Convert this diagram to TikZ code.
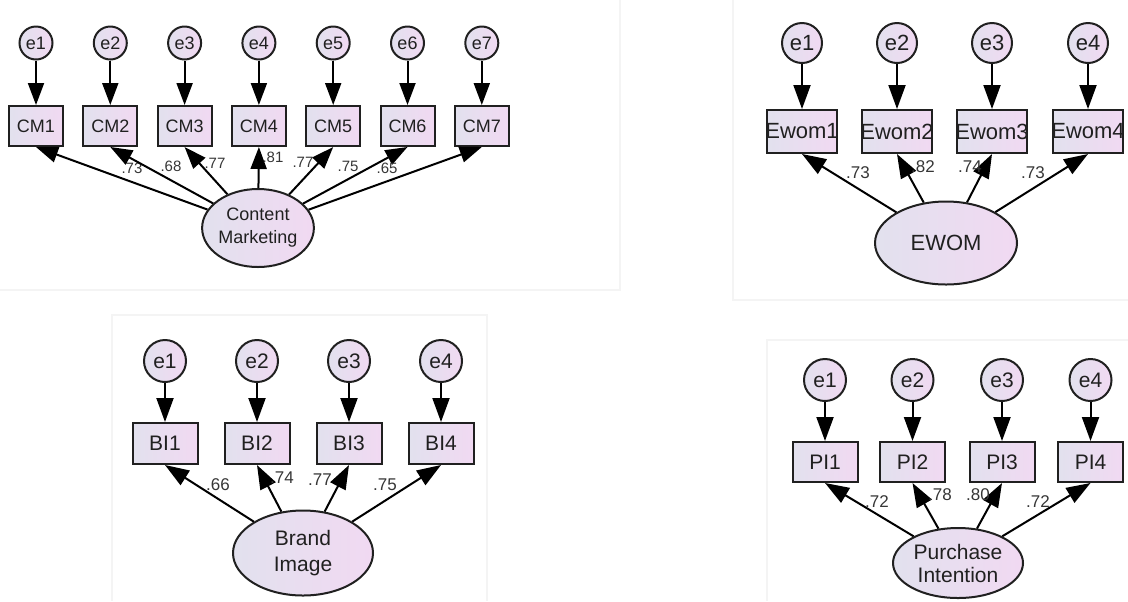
\documentclass[tikz,border=0pt]{standalone}
\usepackage{fontspec}
\setmainfont{Liberation Sans}
\usetikzlibrary{shapes,positioning,arrows.meta}

\definecolor{lavL}{HTML}{E2E1EE}
\definecolor{lavR}{HTML}{F1D9F2}
\definecolor{ink}{HTML}{202020}
\definecolor{wtgray}{HTML}{363636}
\definecolor{paneline}{HTML}{F4F4F4}

\tikzset{
  amos/.style={left color=lavL, right color=lavR, draw=ink, line width=1pt, text=ink, inner sep=0pt},
  err/.style={amos, circle},
  obs/.style={amos, rectangle},
  lat/.style={amos, ellipse, align=center},
  wt/.style={text=wtgray, inner sep=0pt},
}

\begin{document}
\begin{tikzpicture}[x=0.5pt, y=-0.5pt,
  line width=1pt,
  >={Triangle[length=12pt,width=8.5pt]},
  ]
  \useasboundingbox (0,0) rectangle (1128,601);
  % faint panel frames
  \draw [paneline] (0,290) -- (620,290) -- (620,0);
  \draw [paneline] (733,0) |- (1128,300);
  \draw [paneline] (112,601) |- (487,315) -- (487,601);
  \draw [paneline] (767,601) |- (1128,340);

  % content marketing
  \begin{scope}[>={Triangle[length=11pt,width=8pt]},
    every node/.append style={font=\fontsize{9}{11.5}\selectfont}]
    \foreach \i/\x in {1/36,2/110.3,3/184.6,4/258.9,5/333.2,6/407.5,7/481.8} {
      \node [err, minimum size=16.5pt] (cme\i) at (\x,43) {e\i};
      \node [obs, minimum width=27pt, minimum height=20pt] (cm\i) at (\x,126) {CM\i};
      \draw [->] (cme\i) -- (cm\i);
    }
    \node [lat, minimum width=54pt, minimum height=39pt] (cmlat) at (258,228) {Content\\Marketing};
    \foreach \i/\w/\x/\y in {1/.73/132/168,2/.68/171/166,3/.77/215/163,4/.81/273/157,
                             5/.77/303/162,6/.75/348/166,7/.65/387/168} {
      \draw [->] (cmlat) -- (cm\i.south);
      \node [wt, font=\fontsize{7.5}{8}\selectfont] (cmw\i) at (\x,\y) {\w};
    }
  \end{scope}

  % ewom
  \begin{scope}[every node/.append style={font=\fontsize{11}{13}\selectfont}]
    \foreach \i/\x in {1/802,2/897,3/992,4/1088} {
      \node [err, minimum size=20pt] (ewe\i) at (\x,43) {e\i};
      \node [obs, minimum width=35pt, minimum height=21.5pt] (ew\i) at (\x,131.5) {\makebox[0pt]{Ewom\i}};
      \draw [->] (ewe\i) -- (ew\i);
    }
    \node [lat, minimum width=71pt, minimum height=41.5pt] (ewlat) at (946,243) {EWOM};
    \foreach \i/\w/\x/\y in {1/.73/858/173,2/.82/923/167,3/.74/970/167,4/.73/1033/173} {
      \draw [->] (ewlat) -- (ew\i.south);
      \node [wt, font=\fontsize{8.5}{10}\selectfont] (eww\i) at (\x,\y) {\w};
    }
  \end{scope}

  % brand image
  \begin{scope}[every node/.append style={font=\fontsize{10.5}{13}\selectfont}]
    \foreach \i/\x in {1/165,2/257,3/349,4/441} {
      \node [err, minimum size=21pt] (bie\i) at (\x,361) {e\i};
      \node [obs, minimum width=32.5pt, minimum height=20.5pt] (bi\i) at (\x,443.5) {BI\i};
      \draw [->] (bie\i) -- (bi\i);
    }
    \node [lat, minimum width=70pt, minimum height=42.5pt] (bilat) at (303,553) {Brand\\Image};
    \foreach \i/\w/\x/\y in {1/.66/218/485,2/.74/282/478,3/.77/320/480,4/.75/385/485} {
      \draw [->] (bilat) -- (bi\i.south);
      \node [wt, font=\fontsize{8.5}{10}\selectfont] (biw\i) at (\x,\y) {\w};
    }
  \end{scope}

  % purchase intention
  \begin{scope}[every node/.append style={font=\fontsize{10.5}{11.5}\selectfont}]
    \foreach \i/\x in {1/825,2/912.5,3/1002,4/1090.5} {
      \node [err, minimum size=21pt] (pie\i) at (\x,380) {e\i};
      \node [obs, minimum width=32.5pt, minimum height=20pt] (pi\i) at (\x,462) {PI\i};
      \draw [->] (pie\i) -- (pi\i);
    }
    \node [lat, minimum width=65pt, minimum height=35pt] (pilat) at (958,563) {Purchase\\Intention};
    \foreach \i/\w/\x/\y in {1/.72/877/502,2/.78/940/495,3/.80/978/495,4/.72/1038/502} {
      \draw [->] (pilat) -- (pi\i.south);
      \node [wt, font=\fontsize{8.5}{10}\selectfont] (piw\i) at (\x,\y) {\w};
    }
  \end{scope}
\end{tikzpicture}
\end{document}
